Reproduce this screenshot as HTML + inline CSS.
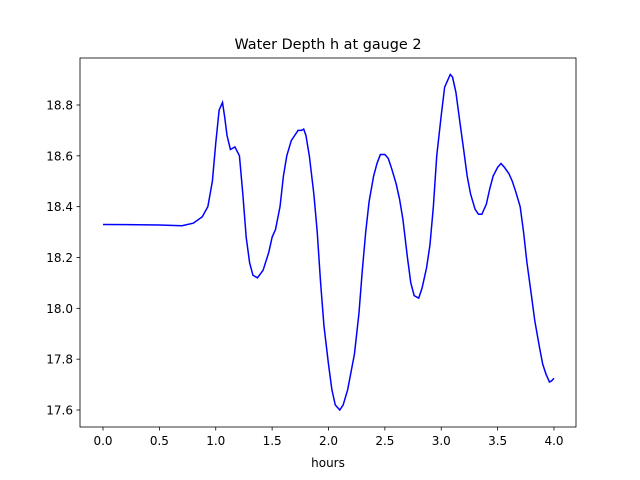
<!DOCTYPE html>
<html><head><meta charset="utf-8"><style>body{margin:0;background:#fff}svg{display:block;font-family:"DejaVu Sans","Liberation Sans",sans-serif}</style></head>
<body>
<svg id="chart" width="640" height="480">
<rect x="0" y="0" width="640" height="480" fill="#fff"/>
<text x="328" y="49" font-size="14.4" text-anchor="middle">Water Depth h at gauge 2</text>
<g id="xt"></g>
<g id="yt"></g>
<path id="line" fill="none" stroke="#0000ff" stroke-width="1.5"/>
<rect x="80" y="58" width="496" height="369" fill="none" stroke="#000" stroke-width="0.8"/>
<text x="328" y="467" font-size="12" text-anchor="middle">hours</text>
</svg>
<script>
const hours=[0,0.5,0.7,0.8,0.88,0.93,0.97,1.0,1.03,1.06,1.08,1.1,1.13,1.17,1.21,1.24,1.27,1.3,1.33,1.37,1.42,1.47,1.5,1.53,1.57,1.6,1.63,1.67,1.7,1.73,1.76,1.78,1.8,1.83,1.87,1.9,1.93,1.96,2.0,2.03,2.06,2.1,2.13,2.17,2.2,2.23,2.27,2.3,2.33,2.36,2.4,2.43,2.46,2.5,2.53,2.56,2.6,2.63,2.66,2.7,2.73,2.76,2.8,2.83,2.87,2.9,2.93,2.96,3.0,3.03,3.06,3.08,3.1,3.13,3.16,3.2,3.23,3.26,3.3,3.33,3.36,3.4,3.43,3.46,3.5,3.53,3.56,3.6,3.63,3.66,3.7,3.73,3.76,3.8,3.83,3.87,3.9,3.93,3.96,3.98,4.0];
const depth=[18.33,18.328,18.325,18.335,18.36,18.40,18.5,18.65,18.78,18.81,18.75,18.68,18.625,18.635,18.6,18.45,18.28,18.18,18.13,18.12,18.15,18.22,18.28,18.31,18.4,18.52,18.6,18.66,18.68,18.70,18.70,18.705,18.68,18.6,18.45,18.3,18.1,17.93,17.78,17.68,17.62,17.60,17.62,17.68,17.75,17.82,17.98,18.15,18.3,18.42,18.52,18.57,18.605,18.605,18.59,18.55,18.49,18.43,18.35,18.2,18.1,18.05,18.04,18.08,18.16,18.25,18.4,18.6,18.76,18.87,18.90,18.92,18.91,18.85,18.75,18.62,18.52,18.45,18.39,18.37,18.37,18.41,18.47,18.52,18.555,18.57,18.555,18.53,18.5,18.46,18.40,18.3,18.18,18.05,17.95,17.85,17.78,17.74,17.71,17.715,17.725];
const xTicks=[0,0.5,1.0,1.5,2.0,2.5,3.0,3.5,4.0];
const yTicks=[17.6,17.8,18.0,18.2,18.4,18.6,18.8];
const NS='http://www.w3.org/2000/svg';
function sx(v){return 103+v*112.75;}
function sy(v){return 105+(18.8-v)*254.17;}
const xt=document.getElementById('xt'),yt=document.getElementById('yt');
xTicks.forEach(t=>{
  const l=document.createElementNS(NS,'line');
  
  
  l.setAttribute('x1',sx(t));l.setAttribute('x2',sx(t));l.setAttribute('y1',427);l.setAttribute('y2',430.5);l.setAttribute('stroke','#000');l.setAttribute('stroke-width','0.8');
  xt.appendChild(l);
  const tx=document.createElementNS(NS,'text');
  
  
  tx.setAttribute('x',sx(t));tx.setAttribute('y',445);tx.setAttribute('font-size','12');tx.setAttribute('text-anchor','middle');
  tx.textContent=t.toFixed(1);xt.appendChild(tx);
});
yTicks.forEach(t=>{
  const l=document.createElementNS(NS,'line');
  
  
  l.setAttribute('x1',76.5);l.setAttribute('x2',80);l.setAttribute('y1',sy(t));l.setAttribute('y2',sy(t));l.setAttribute('stroke','#000');l.setAttribute('stroke-width','0.8');
  yt.appendChild(l);
  const tx=document.createElementNS(NS,'text');
  
  
  tx.setAttribute('x',73);tx.setAttribute('y',sy(t)+4.5);tx.setAttribute('font-size','12');tx.setAttribute('text-anchor','end');
  tx.textContent=t.toFixed(1);yt.appendChild(tx);
});
document.getElementById('line').setAttribute('d',hours.map((h,i)=>(i?'L':'M')+sx(h).toFixed(2)+' '+sy(depth[i]).toFixed(2)).join(''));
</script>
</body></html>
